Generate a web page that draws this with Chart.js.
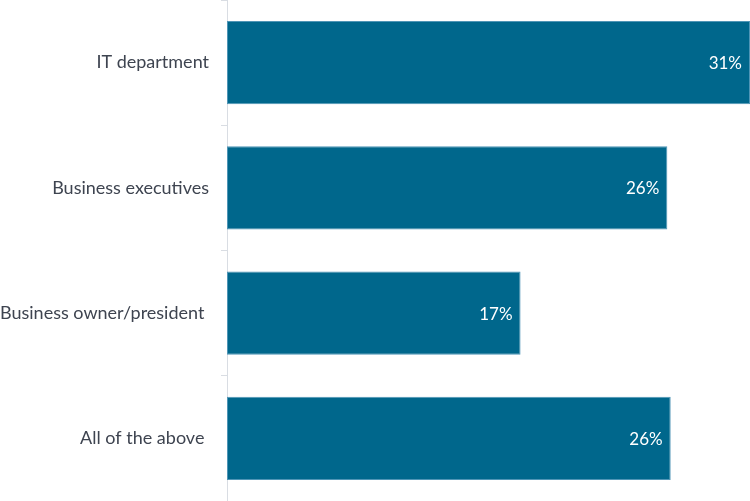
<!DOCTYPE html>
<html>
<head>
<meta charset="utf-8">
<script src="https://cdn.jsdelivr.net/npm/chart.js@4/dist/chart.umd.min.js"></script>
<style>
  html, body { margin: 0; padding: 0; background: #ffffff; }
  #wrap { width: 750px; height: 501px; position: relative; }
</style>
</head>
<body>
<div id="wrap"><canvas id="chart" width="750" height="501"></canvas></div>
<script>
// Who drives the decision — share of respondents
const categories = ['IT department', 'Business executives', 'Business owner/president ', 'All of the above '];
const shares = [31, 26.1, 17.4, 26.3];

const barColor = '#00678c';
const textColor = '#3e4450';

// Percentage labels drawn inside the end of each bar
const valueLabels = {
  id: 'valueLabels',
  afterDatasetsDraw(chart) {
    const ctx = chart.ctx;
    const meta = chart.getDatasetMeta(0);
    ctx.save();
    ctx.font = '17px Lato';
    ctx.fillStyle = '#ffffff';
    ctx.textAlign = 'right';
    ctx.textBaseline = 'middle';
    meta.data.forEach((bar, i) => {
      const v = chart.data.datasets[0].data[i];
      ctx.fillText(Math.round(v) + '%', bar.x - 8, bar.y + 1);
    });
    ctx.restore();
  }
};

new Chart(document.getElementById('chart'), {
  type: 'bar',
  data: {
    labels: categories,
    datasets: [{
      data: shares,
      backgroundColor: barColor,
      borderColor: '#4f95b6',
      borderWidth: 1,
      borderSkipped: false,
      categoryPercentage: 1,
      barPercentage: 0.664
    }]
  },
  options: {
    indexAxis: 'y',
    responsive: false,
    animation: false,
    layout: { padding: 0 },
    plugins: {
      legend: { display: false },
      tooltip: { enabled: false }
    },
    scales: {
      x: {
        display: false,
        min: 0,
        max: 31
      },
      y: {
        afterFit(scale) {
          // category axis spans the full canvas height
          scale.width = 227;
          scale.paddingTop = 0;
          scale.paddingBottom = 0;
        },
        border: { display: true, color: '#d9dde3', width: 1 },
        grid: {
          drawOnChartArea: false,
          drawTicks: true,
          tickLength: 6,
          color: '#d9dde3',
          offset: true
        },
        ticks: {
          color: textColor,
          padding: 12,
          font: { family: 'Lato', size: 18 }
        }
      }
    }
  },
  plugins: [valueLabels]
});
</script>
</body>
</html>
